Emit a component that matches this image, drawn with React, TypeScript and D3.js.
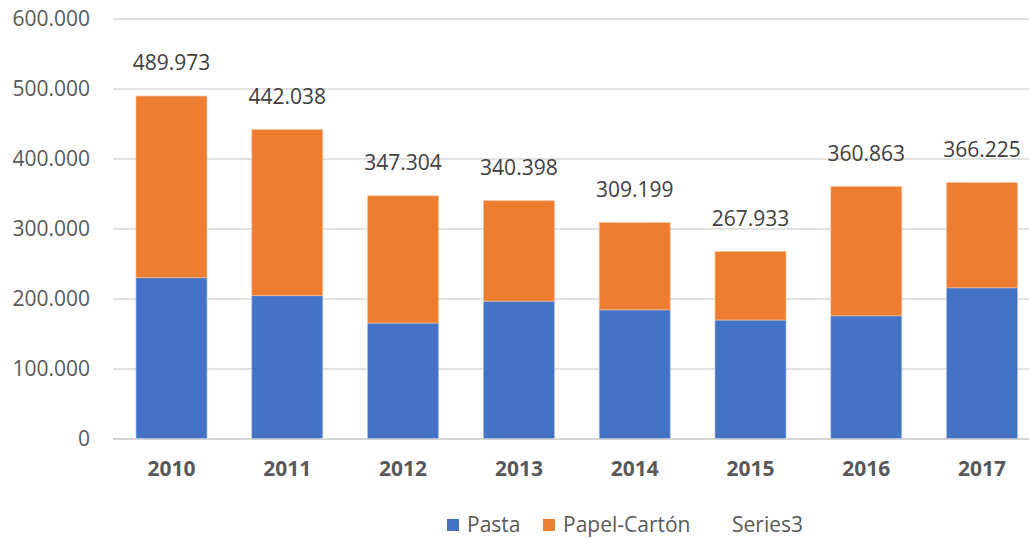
import React from "react";
import * as d3 from "d3";

const years = ["2010", "2011", "2012", "2013", "2014", "2015", "2016", "2017"];
const pasta = [230400, 204700, 165700, 197000, 184500, 170000, 176000, 216000];
const totals = [489973, 442038, 347304, 340398, 309199, 267933, 360863, 366225];
const totalLabels = ["489.973", "442.038", "347.304", "340.398", "309.199", "267.933", "360.863", "366.225"];
const yTicks = [0, 100000, 200000, 300000, 400000, 500000, 600000];
const yTickLabels = ["0", "100.000", "200.000", "300.000", "400.000", "500.000", "600.000"];

const W = 1029;
const H = 539;
const FONT = "'Open Sans', 'Noto Sans', sans-serif";
const FS = 21;

export default function App() {
  const x = d3.scaleBand<string>().domain(years).range([113.6, 1040]).paddingInner(0.387).paddingOuter(0.1935);
  const y = d3.scaleLinear().domain([0, 600000]).range([439, 19]);
  const bw = x.bandwidth();
  return (
    <svg width={W} height={H} style={{ position: "absolute", left: 0, top: 0, background: "#fff" }}>
      {yTicks.map((t, i) => (
        <g key={t}>
          <line x1={113} x2={W} y1={y(t)} y2={y(t)} stroke="#d9d9d9" strokeWidth={1.5} />
          <text x={90} y={y(t)} dy="0.35em" textAnchor="end" fontFamily={FONT} fontSize={FS} fill="#595959">
            {yTickLabels[i]}
          </text>
        </g>
      ))}
      {years.map((yr, i) => {
        const x0 = x(yr)!;
        return (
          <g key={yr}>
            <rect x={x0} y={y(pasta[i])} width={bw} height={y(0) - y(pasta[i])} fill="#4472c4" stroke="#a9bde3" strokeWidth={0.7} />
            <rect x={x0} y={y(totals[i])} width={bw} height={y(pasta[i]) - y(totals[i])} fill="#ed7d31" stroke="#f6c09b" strokeWidth={0.7} />
            <text x={x0 + bw / 2} y={y(totals[i]) - 33} dy="0.35em" textAnchor="middle" fontFamily={FONT} fontSize={FS} fill="#404040">
              {totalLabels[i]}
            </text>
            <text x={x0 + bw / 2} y={469} dy="0.35em" textAnchor="middle" fontFamily={FONT} fontSize={FS} fontWeight="bold" fill="#595959">
              {yr}
            </text>
          </g>
        );
      })}
      <line x1={113} x2={W} y1={y(0)} y2={y(0)} stroke="#d0d0d0" strokeWidth={1.5} />
      <g fontFamily={FONT} fontSize={FS} fill="#595959">
        <rect x={447} y={519} width={12} height={12} fill="#4472c4" />
        <text x={467} y={525} dy="0.35em">Pasta</text>
        <rect x={543} y={519} width={12} height={12} fill="#ed7d31" />
        <text x={563} y={525} dy="0.35em">Papel-Cartón</text>
        <text x={732} y={525} dy="0.35em">Series3</text>
      </g>
    </svg>
  );
}
